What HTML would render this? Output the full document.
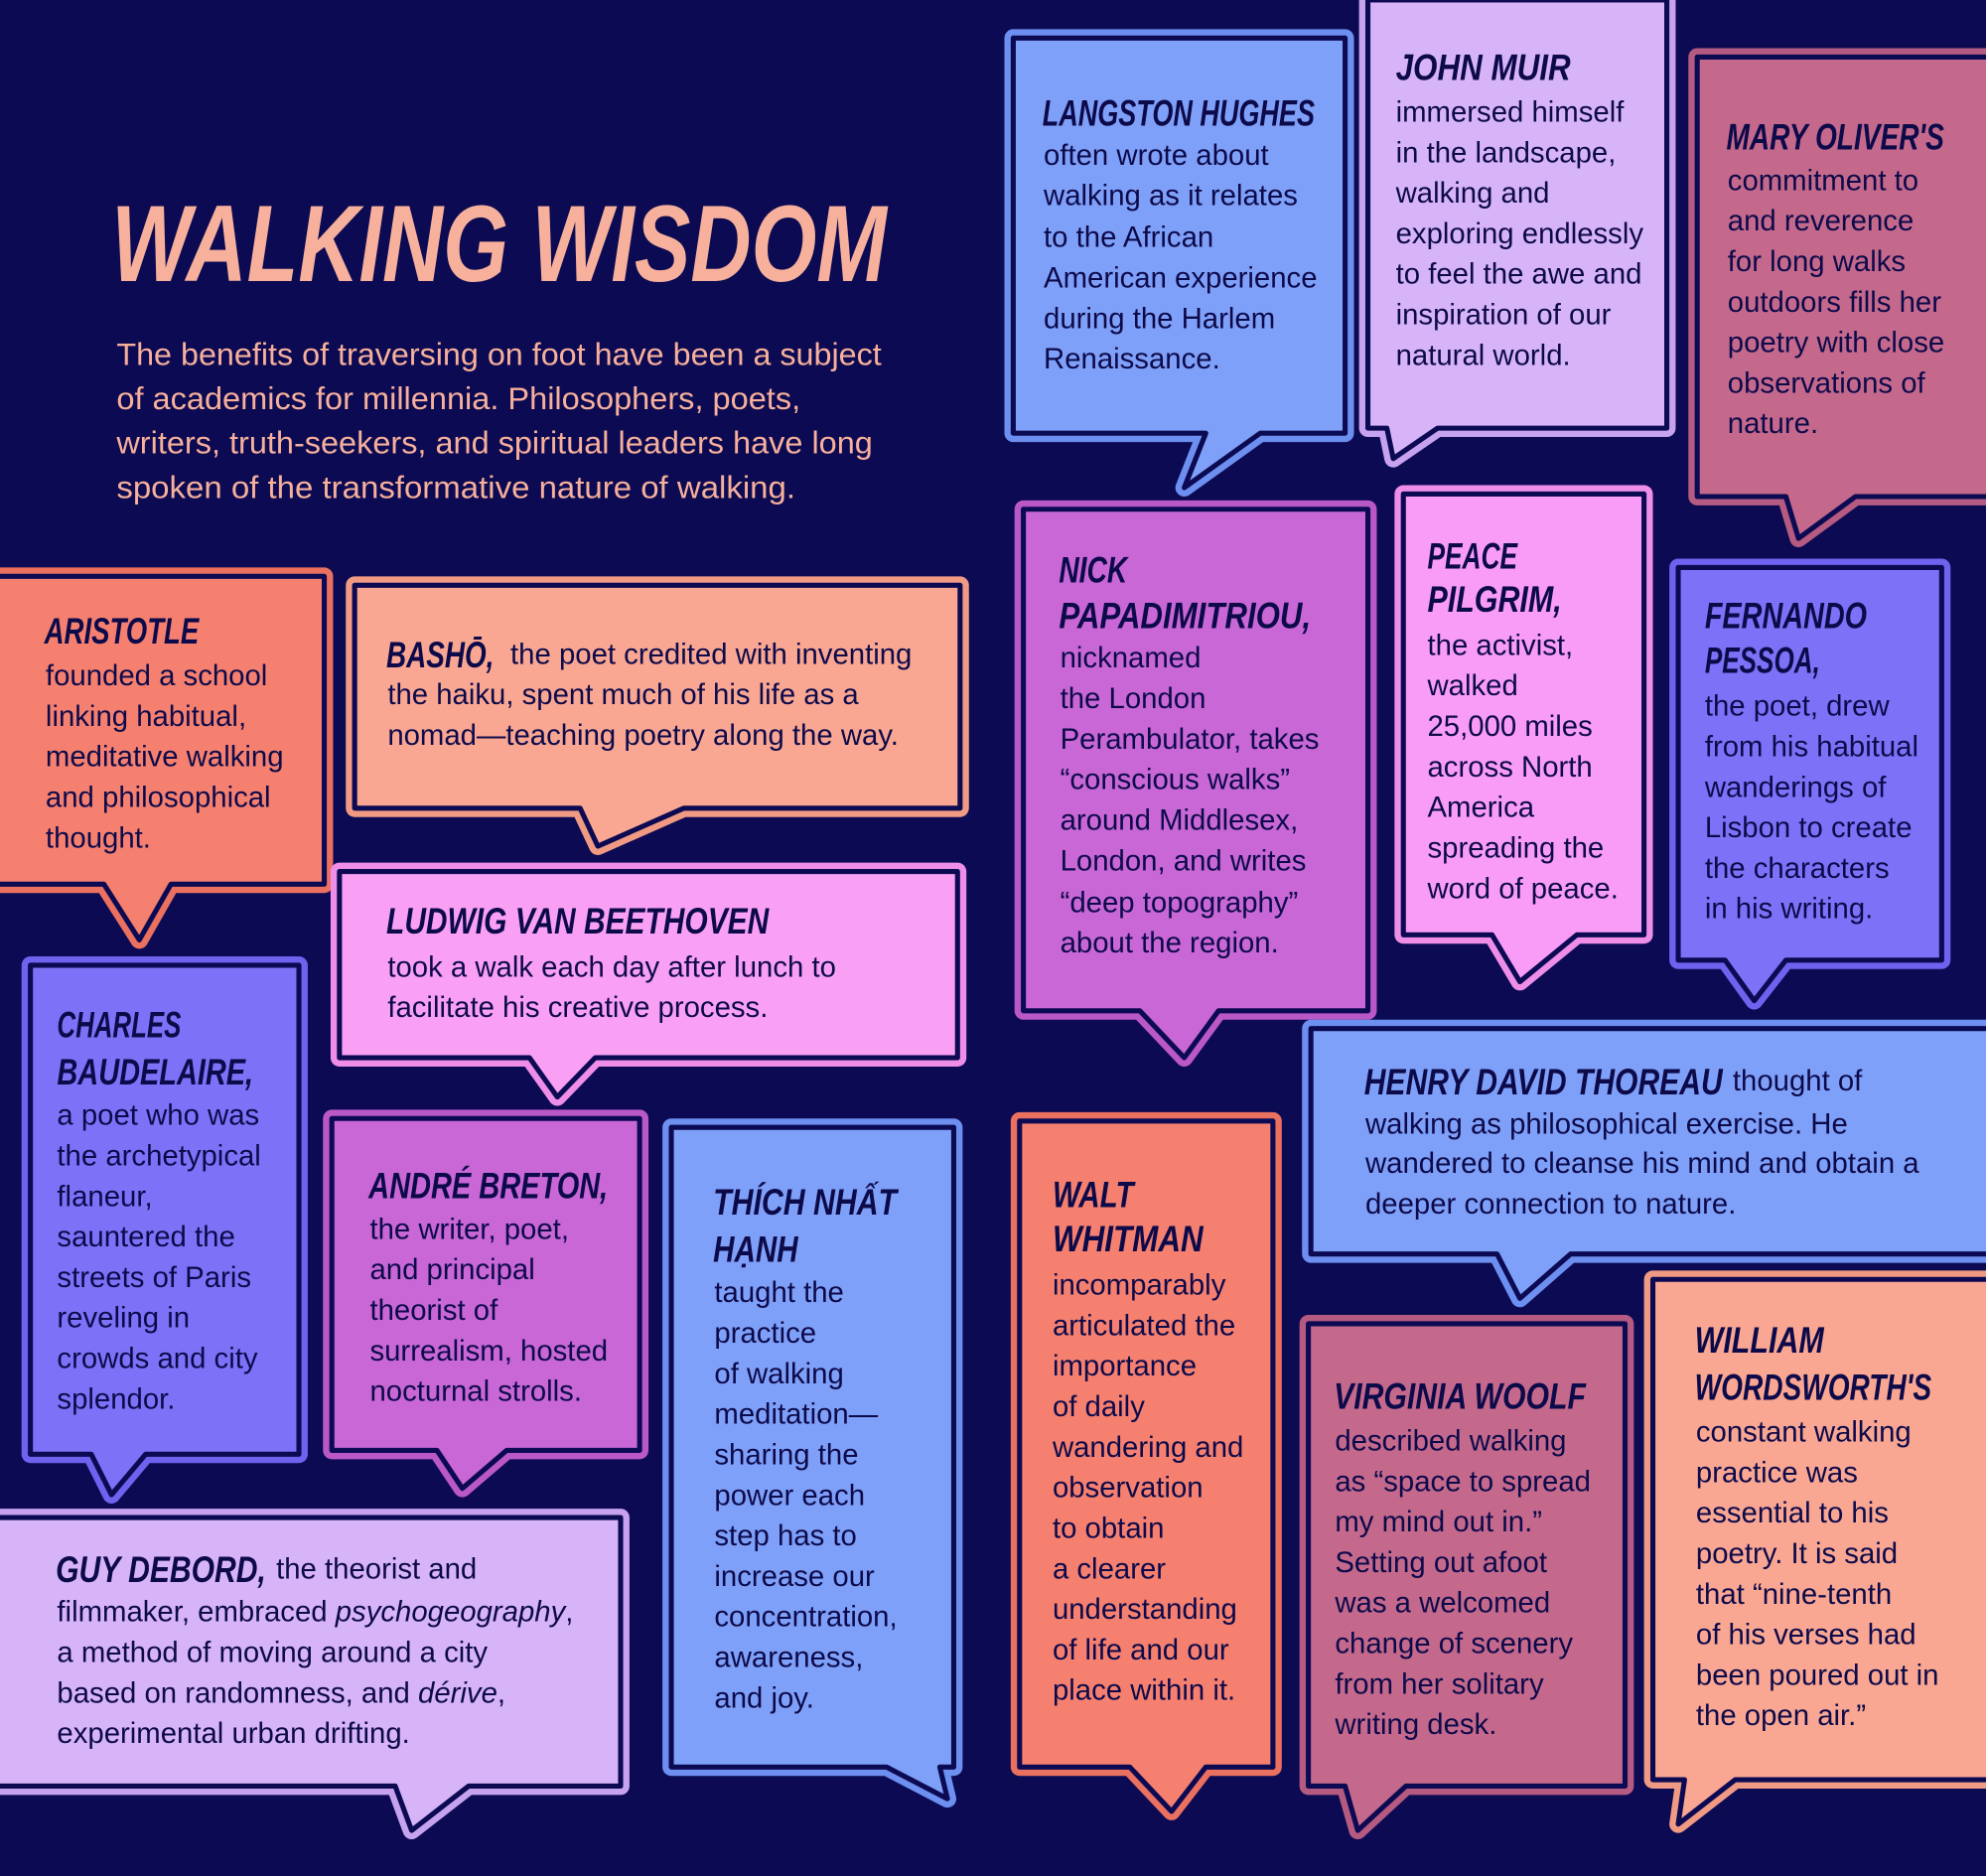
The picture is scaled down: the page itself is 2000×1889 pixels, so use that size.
<!DOCTYPE html>
<html><head><meta charset="utf-8"><style>
html,body{margin:0;padding:0;background:#0c0a52;}
svg{display:block}
.b{font-family:"Liberation Sans",sans-serif;font-size:23px;fill:#0d0a4a}
.n{font-family:"Liberation Sans Narrow","Liberation Sans",sans-serif;font-style:italic;font-weight:bold;font-size:29px;fill:#0d0a4a}
.o{stroke-width:14;stroke-linejoin:round}
.i{stroke:#0c0a52;stroke-width:4;stroke-linejoin:round}
</style></head><body>
<svg width="2000" height="1889" viewBox="0 0 1568 1481" xmlns="http://www.w3.org/2000/svg">
<rect width="1568" height="1481" fill="#0c0a52"/>
<text x="88" y="222" font-family="Liberation Sans Narrow, Liberation Sans, sans-serif" font-style="italic" font-weight="bold" font-size="86" fill="#f7b09c" textLength="612" lengthAdjust="spacingAndGlyphs">WALKING WISDOM</text>
<g font-family="Liberation Sans, sans-serif" font-size="25" fill="#f7b09c">
<text x="92" y="288" textLength="604" lengthAdjust="spacingAndGlyphs">The benefits of traversing on foot have been a subject</text>
<text x="92" y="323" textLength="540" lengthAdjust="spacingAndGlyphs">of academics for millennia. Philosophers, poets,</text>
<text x="92" y="358" textLength="597" lengthAdjust="spacingAndGlyphs">writers, truth-seekers, and spiritual leaders have long</text>
<text x="92" y="393" textLength="536" lengthAdjust="spacingAndGlyphs">spoken of the transformative nature of walking.</text>
</g>

<g>
<path class="o" stroke="#6d8ff0" fill="#7fa0f8" d="M800 30 H1062 V342 H995 L935 385 L952 342 H800 Z"/>
<path class="i" fill="#7fa0f8" d="M800 30 H1062 V342 H995 L935 385 L952 342 H800 Z"/>
<path class="o" stroke="#c6a2ef" fill="#d7b4f7" d="M1080 0 H1316 V338 H1135 L1100 362 L1095 338 H1080 Z"/>
<path class="i" fill="#d7b4f7" d="M1080 0 H1316 V338 H1135 L1100 362 L1095 338 H1080 Z"/>
<path class="o" stroke="#b55a80" fill="#c4698c" d="M1340 45 H1575 V392 H1465 L1420 425 L1410 392 H1340 Z"/>
<path class="i" fill="#c4698c" d="M1340 45 H1575 V392 H1465 L1420 425 L1410 392 H1340 Z"/>
<path class="o" stroke="#ea7060" fill="#f6806f" d="M-10 455 H256 V698 H135 L110 742 L82 698 H-10 Z"/>
<path class="i" fill="#f6806f" d="M-10 455 H256 V698 H135 L110 742 L82 698 H-10 Z"/>
<path class="o" stroke="#f09a84" fill="#f9a792" d="M280 462 H758 V638 H540 L472 668 L458 638 H280 Z"/>
<path class="i" fill="#f9a792" d="M280 462 H758 V638 H540 L472 668 L458 638 H280 Z"/>
<path class="o" stroke="#ee8ee8" fill="#f9a0f5" d="M268 688 H756 V835 H470 L440 866 L418 835 H268 Z"/>
<path class="i" fill="#f9a0f5" d="M268 688 H756 V835 H470 L440 866 L418 835 H268 Z"/>
<path class="o" stroke="#bb58c8" fill="#c867d5" d="M808 402 H1080 V798 H962 L935 835 L900 798 H808 Z"/>
<path class="i" fill="#c867d5" d="M808 402 H1080 V798 H962 L935 835 L900 798 H808 Z"/>
<path class="o" stroke="#ee8ee8" fill="#f99cf7" d="M1108 390 H1298 V738 H1245 L1200 775 L1178 738 H1108 Z"/>
<path class="i" fill="#f99cf7" d="M1108 390 H1298 V738 H1245 L1200 775 L1178 738 H1108 Z"/>
<path class="o" stroke="#6e62ee" fill="#7d72f7" d="M1325 448 H1533 V758 H1410 L1385 790 L1362 758 H1325 Z"/>
<path class="i" fill="#7d72f7" d="M1325 448 H1533 V758 H1410 L1385 790 L1362 758 H1325 Z"/>
<path class="o" stroke="#6e62ee" fill="#7d72f7" d="M24 762 H236 V1148 H115 L88 1180 L72 1148 H24 Z"/>
<path class="i" fill="#7d72f7" d="M24 762 H236 V1148 H115 L88 1180 L72 1148 H24 Z"/>
<path class="o" stroke="#bb58c8" fill="#c867d5" d="M262 883 H505 V1145 H400 L365 1175 L345 1145 H262 Z"/>
<path class="i" fill="#c867d5" d="M262 883 H505 V1145 H400 L365 1175 L345 1145 H262 Z"/>
<path class="o" stroke="#6d8ff0" fill="#7fa0f8" d="M530 890 H753 V1395 H742 L748 1420 L700 1395 H530 Z"/>
<path class="i" fill="#7fa0f8" d="M530 890 H753 V1395 H742 L748 1420 L700 1395 H530 Z"/>
<path class="o" stroke="#c6a2ef" fill="#d7b4f7" d="M-10 1198 H490 V1410 H370 L325 1445 L312 1410 H-10 Z"/>
<path class="i" fill="#d7b4f7" d="M-10 1198 H490 V1410 H370 L325 1445 L312 1410 H-10 Z"/>
<path class="o" stroke="#ea7060" fill="#f6806f" d="M805 885 H1005 V1395 H952 L925 1430 L892 1395 H805 Z"/>
<path class="i" fill="#f6806f" d="M805 885 H1005 V1395 H952 L925 1430 L892 1395 H805 Z"/>
<path class="o" stroke="#6d8ff0" fill="#7fa0f8" d="M1035 812 H1575 V990 H1240 L1200 1025 L1182 990 H1035 Z"/>
<path class="i" fill="#7fa0f8" d="M1035 812 H1575 V990 H1240 L1200 1025 L1182 990 H1035 Z"/>
<path class="o" stroke="#b55a80" fill="#c4698c" d="M1033 1045 H1283 V1410 H1110 L1072 1445 L1062 1410 H1033 Z"/>
<path class="i" fill="#c4698c" d="M1033 1045 H1283 V1410 H1110 L1072 1445 L1062 1410 H1033 Z"/>
<path class="o" stroke="#f09a84" fill="#f9a792" d="M1305 1010 H1575 V1405 H1370 L1325 1440 L1330 1405 H1305 Z"/>
<path class="i" fill="#f9a792" d="M1305 1010 H1575 V1405 H1370 L1325 1440 L1330 1405 H1305 Z"/>
</g>

<text class="n" x="823" y="99" textLength="215" lengthAdjust="spacingAndGlyphs">LANGSTON HUGHES</text>
<g class="b"><text x="824" y="130">often wrote about</text><text x="824" y="162">walking as it relates</text><text x="824" y="195">to the African</text><text x="824" y="227">American experience</text><text x="824" y="259">during the Harlem</text><text x="824" y="291">Renaissance.</text></g>
<text class="n" x="1102" y="63" textLength="138" lengthAdjust="spacingAndGlyphs">JOHN MUIR</text>
<g class="b"><text x="1102" y="96">immersed himself</text><text x="1102" y="128">in the landscape,</text><text x="1102" y="160">walking and</text><text x="1102" y="192">exploring endlessly</text><text x="1102" y="224">to feel the awe and</text><text x="1102" y="256">inspiration of our</text><text x="1102" y="288">natural world.</text></g>
<text class="n" x="1363" y="118" textLength="172" lengthAdjust="spacingAndGlyphs">MARY OLIVER'S</text>
<g class="b"><text x="1364" y="150">commitment to</text><text x="1364" y="182">and reverence</text><text x="1364" y="214">for long walks</text><text x="1364" y="246">outdoors fills her</text><text x="1364" y="278">poetry with close</text><text x="1364" y="310">observations of</text><text x="1364" y="342">nature.</text></g>
<text class="n" x="35" y="508" textLength="122" lengthAdjust="spacingAndGlyphs">ARISTOTLE</text>
<g class="b"><text x="36" y="541">founded a school</text><text x="36" y="573">linking habitual,</text><text x="36" y="605">meditative walking</text><text x="36" y="637">and philosophical</text><text x="36" y="669">thought.</text></g>
<text class="n" x="305" y="527" textLength="85" lengthAdjust="spacingAndGlyphs">BASHŌ,</text>
<g class="b"><text x="403" y="524">the poet credited with inventing</text><text x="306" y="556">the haiku, spent much of his life as a</text><text x="306" y="588">nomad—teaching poetry along the way.</text></g>
<text class="n" x="305" y="737" textLength="302" lengthAdjust="spacingAndGlyphs">LUDWIG VAN BEETHOVEN</text>
<g class="b"><text x="306" y="771">took a walk each day after lunch to</text><text x="306" y="803">facilitate his creative process.</text></g>
<text class="n" x="836" y="460" textLength="54" lengthAdjust="spacingAndGlyphs">NICK</text><text class="n" x="836" y="496" textLength="199" lengthAdjust="spacingAndGlyphs">PAPADIMITRIOU,</text>
<g class="b"><text x="837" y="527">nicknamed</text><text x="837" y="559">the London</text><text x="837" y="591">Perambulator, takes</text><text x="837" y="623">“conscious walks”</text><text x="837" y="655">around Middlesex,</text><text x="837" y="687">London, and writes</text><text x="837" y="720">“deep topography”</text><text x="837" y="752">about the region.</text></g>
<text class="n" x="1127" y="449" textLength="71" lengthAdjust="spacingAndGlyphs">PEACE</text><text class="n" x="1127" y="483" textLength="106" lengthAdjust="spacingAndGlyphs">PILGRIM,</text>
<g class="b"><text x="1127" y="517">the activist,</text><text x="1127" y="549">walked</text><text x="1127" y="581">25,000 miles</text><text x="1127" y="613">across North</text><text x="1127" y="645">America</text><text x="1127" y="677">spreading the</text><text x="1127" y="709">word of peace.</text></g>
<text class="n" x="1346" y="496" textLength="128" lengthAdjust="spacingAndGlyphs">FERNANDO</text><text class="n" x="1346" y="531" textLength="91" lengthAdjust="spacingAndGlyphs">PESSOA,</text>
<g class="b"><text x="1346" y="565">the poet, drew</text><text x="1346" y="597">from his habitual</text><text x="1346" y="629">wanderings of</text><text x="1346" y="661">Lisbon to create</text><text x="1346" y="693">the characters</text><text x="1346" y="725">in his writing.</text></g>
<text class="n" x="45" y="819" textLength="98" lengthAdjust="spacingAndGlyphs">CHARLES</text><text class="n" x="45" y="856" textLength="155" lengthAdjust="spacingAndGlyphs">BAUDELAIRE,</text>
<g class="b"><text x="45" y="888">a poet who was</text><text x="45" y="920">the archetypical</text><text x="45" y="952">flaneur,</text><text x="45" y="984">sauntered the</text><text x="45" y="1016">streets of Paris</text><text x="45" y="1048">reveling in</text><text x="45" y="1080">crowds and city</text><text x="45" y="1112">splendor.</text></g>
<text class="n" x="291" y="946" textLength="189" lengthAdjust="spacingAndGlyphs">ANDRÉ BRETON,</text>
<g class="b"><text x="292" y="978">the writer, poet,</text><text x="292" y="1010">and principal</text><text x="292" y="1042">theorist of</text><text x="292" y="1074">surrealism, hosted</text><text x="292" y="1106">nocturnal strolls.</text></g>
<text class="n" x="563" y="959" textLength="145" lengthAdjust="spacingAndGlyphs">THÍCH NHẤT</text><text class="n" x="563" y="996" textLength="67" lengthAdjust="spacingAndGlyphs">HẠNH</text>
<g class="b"><text x="564" y="1028">taught the</text><text x="564" y="1060">practice</text><text x="564" y="1092">of walking</text><text x="564" y="1124">meditation—</text><text x="564" y="1156">sharing the</text><text x="564" y="1188">power each</text><text x="564" y="1220">step has to</text><text x="564" y="1252">increase our</text><text x="564" y="1284">concentration,</text><text x="564" y="1316">awareness,</text><text x="564" y="1348">and joy.</text></g>
<text class="n" x="44" y="1249" textLength="166" lengthAdjust="spacingAndGlyphs">GUY DEBORD,</text>
<g class="b"><text x="218" y="1246">the theorist and</text><text x="45" y="1280">filmmaker, embraced <tspan font-style="italic">psychogeography</tspan>,</text><text x="45" y="1312">a method of moving around a city</text><text x="45" y="1344">based on randomness, and <tspan font-style="italic">dérive</tspan>,</text><text x="45" y="1376">experimental urban drifting.</text></g>
<text class="n" x="831" y="953" textLength="64" lengthAdjust="spacingAndGlyphs">WALT</text><text class="n" x="831" y="988" textLength="119" lengthAdjust="spacingAndGlyphs">WHITMAN</text>
<g class="b"><text x="831" y="1022">incomparably</text><text x="831" y="1054">articulated the</text><text x="831" y="1086">importance</text><text x="831" y="1118">of daily</text><text x="831" y="1150">wandering and</text><text x="831" y="1182">observation</text><text x="831" y="1214">to obtain</text><text x="831" y="1246">a clearer</text><text x="831" y="1278">understanding</text><text x="831" y="1310">of life and our</text><text x="831" y="1342">place within it.</text></g>
<text class="n" x="1077" y="864" textLength="283" lengthAdjust="spacingAndGlyphs">HENRY DAVID THOREAU</text>
<g class="b"><text x="1368" y="861">thought of</text><text x="1078" y="895">walking as philosophical exercise. He</text><text x="1078" y="926">wandered to cleanse his mind and obtain a</text><text x="1078" y="958">deeper connection to nature.</text></g>
<text class="n" x="1053" y="1112" textLength="199" lengthAdjust="spacingAndGlyphs">VIRGINIA WOOLF</text>
<g class="b"><text x="1054" y="1145">described walking</text><text x="1054" y="1177">as “space to spread</text><text x="1054" y="1209">my mind out in.”</text><text x="1054" y="1241">Setting out afoot</text><text x="1054" y="1273">was a welcomed</text><text x="1054" y="1305">change of scenery</text><text x="1054" y="1337">from her solitary</text><text x="1054" y="1369">writing desk.</text></g>
<text class="n" x="1338" y="1068" textLength="102" lengthAdjust="spacingAndGlyphs">WILLIAM</text><text class="n" x="1338" y="1105" textLength="187" lengthAdjust="spacingAndGlyphs">WORDSWORTH'S</text>
<g class="b"><text x="1339" y="1138">constant walking</text><text x="1339" y="1170">practice was</text><text x="1339" y="1202">essential to his</text><text x="1339" y="1234">poetry. It is said</text><text x="1339" y="1266">that “nine-tenth</text><text x="1339" y="1298">of his verses had</text><text x="1339" y="1330">been poured out in</text><text x="1339" y="1362">the open air.”</text></g>
</svg>
</body></html>
